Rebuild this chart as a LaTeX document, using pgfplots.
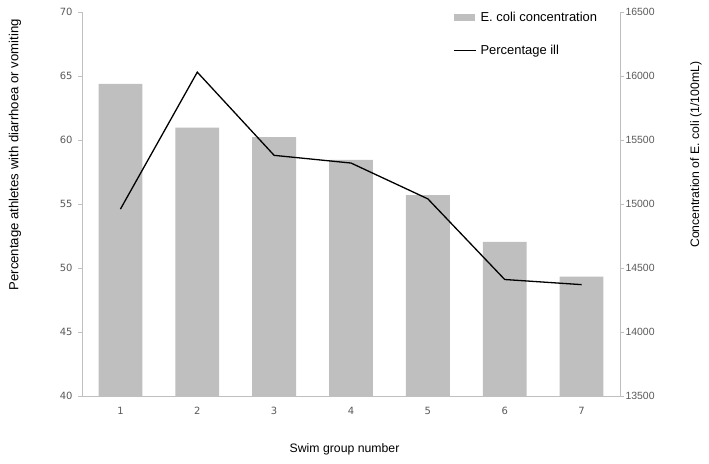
\documentclass[border=0pt]{standalone}
\usepackage{pgfplots}
\pgfplotsset{compat=1.18}
\usepackage{fontspec}
\setmainfont{Liberation Sans}
\newfontfamily\tickfont{DejaVu Sans}

\definecolor{barg}{HTML}{BFBFBF}
\definecolor{axg}{HTML}{BFBFBF}
\definecolor{tickg}{HTML}{595959}

\tikzset{titlefont/.style={font=\fontsize{12.3}{14}\selectfont, text=black}}

\pgfplotsset{
  common/.style={
    at={(82bp,68bp)}, anchor=south west,
    scale only axis, width=538bp, height=384bp,
    xmin=0.5, xmax=7.5,
    axis line style={draw=axg, line width=0.8bp},
    tick style={draw=axg, line width=0.8bp},
    tick align=outside,
    major tick length=4bp,
    scaled y ticks=false,
  },
}

\begin{document}
\begin{tikzpicture}[x=1bp,y=1bp]
\useasboundingbox (0,0) rectangle (709,464);

% bars: E. coli concentration, right axis
\begin{axis}[common,
  axis x line*=bottom, axis y line*=right,
  ymin=13500, ymax=16500,
  ytick={13500,14000,...,16500},
  yticklabel style={/pgf/number format/1000 sep={}, /pgf/number format/assume math mode=true,
    font=\fontsize{10.5}{12}\selectfont, color=tickg, xshift=-2bp},
  xtick={1,...,7},
  xticklabel style={/pgf/number format/assume math mode=true,
    font=\tickfont\fontsize{10}{12}\selectfont, color=tickg, yshift=-4bp},
  minor xtick={0.5,1.5,...,7.5},
  xtick style={draw=none},
  minor tick style={draw=axg, line width=0.8bp},
  minor tick length=5bp,
  ylabel={Concentration of E. coli (1/100mL)},
  every axis y label/.style={at={(axis description cs:1.1413,0.628)}, rotate=90, anchor=center, titlefont},
  xlabel={Swim group number},
  every axis x label/.style={at={(axis description cs:0.488,-0.138)}, anchor=center, titlefont},
]
\addplot[ybar, bar width=0.57, fill=barg, draw=none] coordinates {
  (1,15939) (2,15596) (3,15523) (4,15344) (5,15069) (6,14705) (7,14433)
};
\end{axis}

% line: percentage ill, left axis
\begin{axis}[common,
  axis y line*=left, hide x axis,
  ymin=40, ymax=70,
  ytick={40,45,...,70},
  yticklabel style={/pgf/number format/assume math mode=true,
    font=\tickfont\fontsize{10}{12}\selectfont, color=tickg, xshift=-2bp},
  ylabel={Percentage athletes with diarrhoea or vomiting},
  every axis y label/.style={at={(axis description cs:-0.1245,0.628)}, rotate=90, anchor=center,
    font=\fontsize{13.2}{15}\selectfont, text=black},
  legend style={at={(axis description cs:0.6896,1.006)}, anchor=north west,
    draw=none, fill=none, inner sep=0pt, row sep=18bp,
    font=\fontsize{13}{15}\selectfont, cells={anchor=west},
    nodes={inner xsep=4bp}},
]
\addlegendimage{legend image code/.code={\fill[barg] (0bp,-3bp) rectangle (20bp,3bp);}}
\addlegendentry{E. coli concentration}
\addplot[black, line width=1.3bp, mark=none,
  legend image code/.code={\draw[black, line width=1.3bp] (0bp,0bp) -- (22bp,0bp);}] coordinates {
  (1,54.6) (2,65.3) (3,58.8) (4,58.2) (5,55.4) (6,49.1) (7,48.7)
};
\addlegendentry{Percentage ill}
\end{axis}
\end{tikzpicture}
\end{document}
